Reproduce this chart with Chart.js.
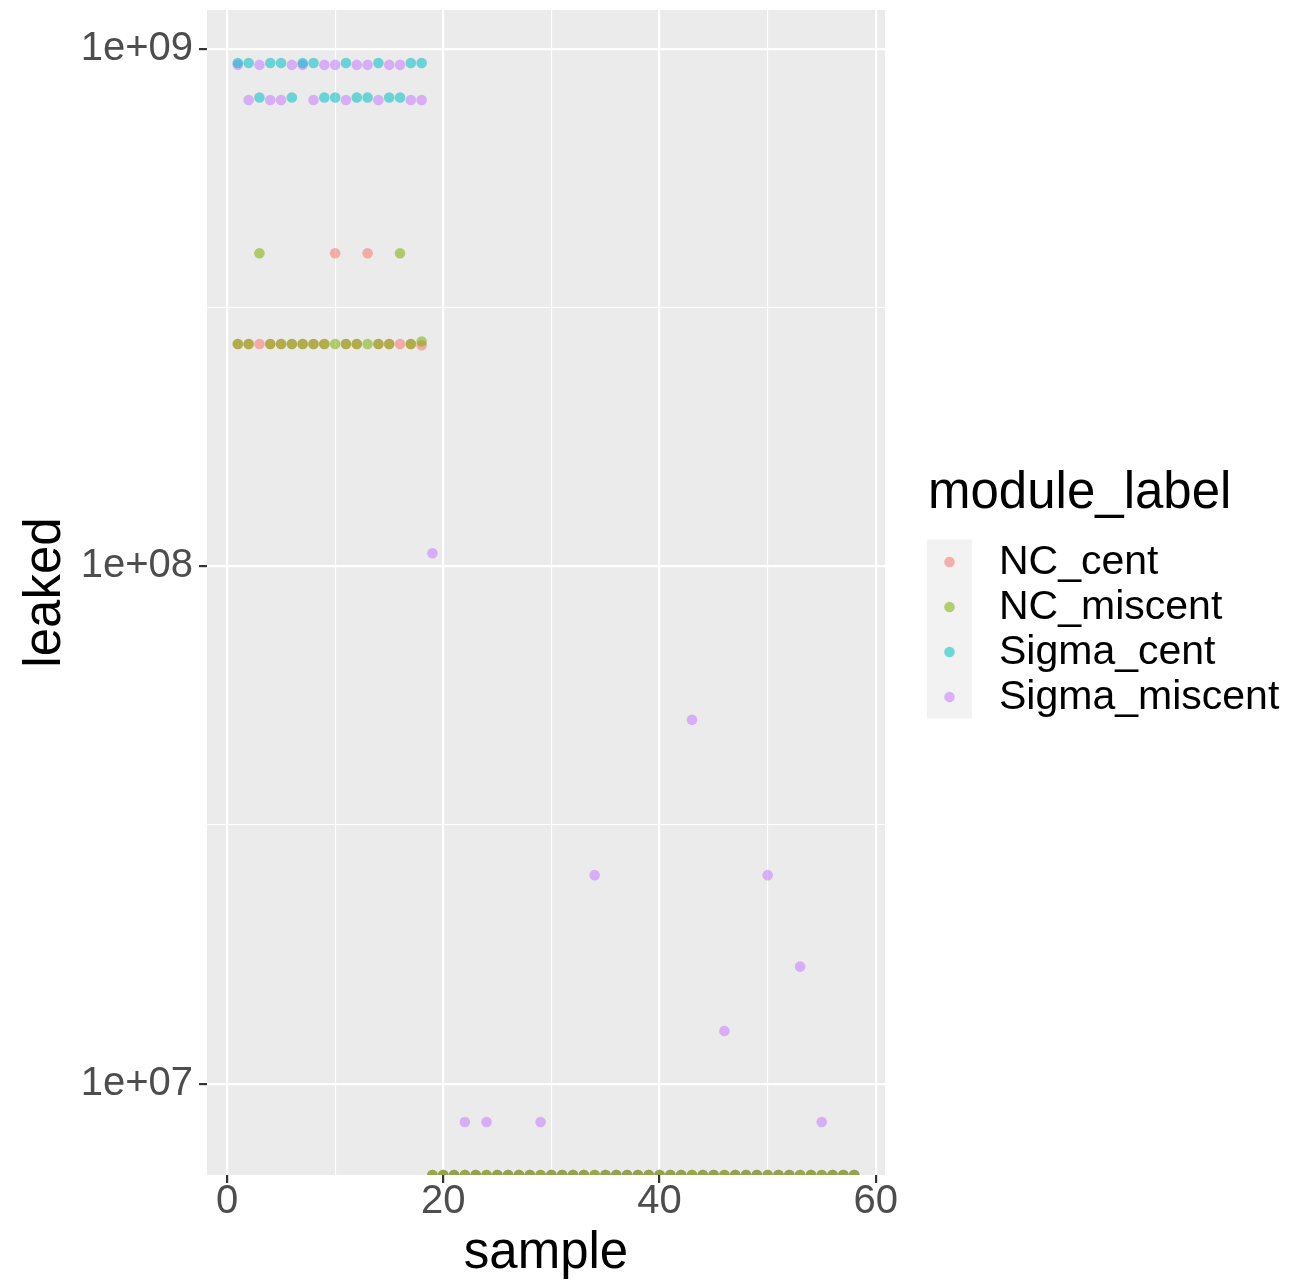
<!DOCTYPE html>
<html>
<head>
<meta charset="utf-8">
<script src="https://cdn.jsdelivr.net/npm/chart.js@4/dist/chart.umd.min.js"></script>
<style>
  html, body { margin: 0; padding: 0; background: #ffffff; }
  #wrap { width: 1312px; height: 1280px; }
</style>
</head>
<body>
<div id="wrap"><canvas id="chart" width="1312" height="1280"></canvas></div>
<script>
// ---- data -------------------------------------------------------------
const samples = [
  1, 2, 3, 4, 5, 6, 7, 8, 9, 10, 11, 12, 13, 14, 15, 16, 17, 18, 19, 20,
  21, 22, 23, 24, 25, 26, 27, 28, 29, 30, 31, 32, 33, 34, 35, 36, 37, 38, 39, 40,
  41, 42, 43, 44, 45, 46, 47, 48, 49, 50, 51, 52, 53, 54, 55, 56, 57, 58
];

const seriesNames = ['NC_cent', 'NC_miscent', 'Sigma_cent', 'Sigma_miscent'];
const seriesColors = ['#F8766D', '#7CAE00', '#00BFC4', '#C77CFF'];

// leaked bytes per sample; 0 means nothing leaked (drawn on the panel floor)
const ncCent = [
  2.69e8, 2.69e8, 2.69e8, 2.69e8, 2.69e8, 2.69e8, 2.69e8, 2.69e8, 2.69e8, 4.03e8,
  2.69e8, 2.69e8, 4.03e8, 2.69e8, 2.69e8, 2.69e8, 2.69e8, 2.675e8, 0, 0,
  0, 0, 0, 0, 0, 0, 0, 0, 0, 0,
  0, 0, 0, 0, 0, 0, 0, 0, 0, 0,
  0, 0, 0, 0, 0, 0, 0, 0, 0, 0,
  0, 0, 0, 0, 0, 0, 0, 0
];
const ncMiscent = [
  2.69e8, 2.69e8, 4.03e8, 2.69e8, 2.69e8, 2.69e8, 2.69e8, 2.69e8, 2.69e8, 2.69e8,
  2.69e8, 2.69e8, 2.69e8, 2.69e8, 2.69e8, 4.03e8, 2.69e8, 2.72e8, 0, 0,
  0, 0, 0, 0, 0, 0, 0, 0, 0, 0,
  0, 0, 0, 0, 0, 0, 0, 0, 0, 0,
  0, 0, 0, 0, 0, 0, 0, 0, 0, 0,
  0, 0, 0, 0, 0, 0, 0, 0
];
const sigmaCent = [
  9.40e8, 9.40e8, 8.06e8, 9.40e8, 9.40e8, 8.06e8, 9.40e8, 9.40e8, 8.06e8, 8.06e8,
  9.40e8, 8.06e8, 8.06e8, 9.40e8, 8.06e8, 8.06e8, 9.40e8, 9.40e8, 0, 0,
  0, 0, 0, 0, 0, 0, 0, 0, 0, 0,
  0, 0, 0, 0, 0, 0, 0, 0, 0, 0,
  0, 0, 0, 0, 0, 0, 0, 0, 0, 0,
  0, 0, 0, 0, 0, 0, 0, 0
];
const sigmaMiscent = [
  9.32e8, 7.97e8, 9.32e8, 7.97e8, 7.97e8, 9.32e8, 9.32e8, 7.97e8, 9.32e8, 9.32e8,
  7.97e8, 9.32e8, 9.32e8, 7.97e8, 9.32e8, 9.32e8, 7.97e8, 7.97e8, 1.06e8, 0,
  0, 8.43e6, 0, 8.43e6, 0, 0, 0, 0, 8.43e6, 0,
  0, 0, 0, 2.53e7, 0, 0, 0, 0, 0, 0,
  0, 0, 5.05e7, 0, 0, 1.264e7, 0, 0, 0, 2.53e7,
  0, 0, 1.684e7, 0, 8.43e6, 0, 0, 0
];

const xTickValues = [0, 20, 40, 60];
const xMinorValues = [10, 30, 50];
const yTickValues = [1e7, 1e8, 1e9];
const yTickLabels = ['1e+07', '1e+08', '1e+09'];

// ---- scale limits (5% padding on each side, log10 space for y) --------
const allSeries = [ncCent, ncMiscent, sigmaCent, sigmaMiscent];
const xLo = Math.min(...samples), xHi = Math.max(...samples);
const xPad = (xHi - xLo) * 0.05;
const xMin = xLo - xPad, xMax = xHi + xPad;

const positives = allSeries.flat().filter(v => v > 0);
const lLo = Math.log10(Math.min(...positives)), lHi = Math.log10(Math.max(...positives));
const lPad = (lHi - lLo) * 0.05;
const yMin = Math.pow(10, lLo - lPad), yMax = Math.pow(10, lHi + lPad);

// minor grid lines sit halfway between decades (log space)
const yMinorValues = [];
for (let i = 0; i < yTickValues.length - 1; i++) {
  yMinorValues.push(Math.sqrt(yTickValues[i] * yTickValues[i + 1]));
}

const FONT = '"Liberation Sans", Arial, sans-serif';
const ALPHA = 0.55;

function withAlpha(hex, a) {
  const r = parseInt(hex.slice(1, 3), 16), g = parseInt(hex.slice(3, 5), 16), b = parseInt(hex.slice(5, 7), 16);
  return `rgba(${r},${g},${b},${a})`;
}

// draw order: Sigma_miscent at the bottom, NC_miscent on top
const drawOrder = [1, 0, 2, 3];

const datasets = seriesNames.map((name, i) => ({
  label: name,
  data: samples.map((s, k) => ({ x: s, y: allSeries[i][k] > 0 ? allSeries[i][k] : yMin })),
  backgroundColor: withAlpha(seriesColors[i], ALPHA),
  borderWidth: 0,
  pointRadius: 5.3,
  pointHoverRadius: 5.3,
  clip: 0,
  order: drawOrder[i]
}));

// ---- plugins ------------------------------------------------------------
const panelBackground = {
  id: 'panelBackground',
  beforeDraw(chart) {
    const { ctx, chartArea: a } = chart;
    ctx.save();
    ctx.fillStyle = '#EBEBEB';
    ctx.fillRect(a.left, a.top, a.right - a.left, a.bottom - a.top);
    ctx.restore();
  }
};

const sideLegend = {
  id: 'sideLegend',
  afterDraw(chart) {
    const ctx = chart.ctx;
    ctx.save();
    ctx.fillStyle = '#000000';
    ctx.font = `51px ${FONT}`;
    ctx.textAlign = 'left';
    ctx.textBaseline = 'alphabetic';
    ctx.fillText('module_label', 928, 508);

    const keyX = 927, keyTop = 539.5, keySize = 45;
    ctx.fillStyle = '#F2F2F2';
    ctx.fillRect(keyX, keyTop, keySize, keySize * seriesNames.length - 1);

    seriesNames.forEach((name, i) => {
      const cy = keyTop + keySize * i + keySize / 2;
      ctx.fillStyle = withAlpha(seriesColors[i], ALPHA);
      ctx.beginPath();
      ctx.arc(keyX + keySize / 2, cy, 5.3, 0, Math.PI * 2);
      ctx.fill();
      ctx.fillStyle = '#000000';
      ctx.font = `41px ${FONT}`;
      ctx.textBaseline = 'middle';
      ctx.fillText(name, 999, cy + 1);
    });
    ctx.restore();
  }
};

// ---- chart --------------------------------------------------------------
const isXMajor = v => xTickValues.includes(v);
const isYMajor = v => yTickValues.some(t => Math.abs(t - v) / t < 1e-9);

new Chart(document.getElementById('chart'), {
  type: 'scatter',
  data: { datasets },
  plugins: [panelBackground, sideLegend],
  options: {
    responsive: false,
    animation: false,
    devicePixelRatio: 1,
    layout: { padding: { left: 0, top: 10, right: 427, bottom: 0 } },
    plugins: { legend: { display: false }, tooltip: { enabled: false } },
    scales: {
      x: {
        type: 'linear',
        min: xMin,
        max: xMax,
        afterBuildTicks(scale) {
          scale.ticks = [...xMinorValues, ...xTickValues].sort((a, b) => a - b).map(v => ({ value: v }));
        },
        afterFit(scale) {
          scale.height = 105;
          scale.paddingLeft = 0;
          scale.paddingRight = 0;
        },
        border: { display: false },
        grid: {
          color: '#FFFFFF',
          lineWidth: ctx => (ctx.tick && isXMajor(ctx.tick.value)) ? 2.2 : 1.1,
          tickColor: ctx => (ctx.tick && isXMajor(ctx.tick.value)) ? '#333333' : 'rgba(0,0,0,0)',
          tickWidth: 2.2,
          tickLength: 8
        },
        ticks: {
          autoSkip: false,
          maxRotation: 0,
          padding: -1,
          color: '#4D4D4D',
          font: { family: FONT, size: 40, lineHeight: 1 },
          callback: v => isXMajor(v) ? String(v) : ''
        },
        title: {
          display: true,
          text: 'sample',
          color: '#000000',
          font: { family: FONT, size: 51, lineHeight: 1 },
          padding: { top: 0, bottom: 1 }
        }
      },
      y: {
        type: 'logarithmic',
        min: yMin,
        max: yMax,
        afterBuildTicks(scale) {
          scale.ticks = [...yMinorValues, ...yTickValues].sort((a, b) => a - b).map(v => ({ value: v }));
        },
        afterFit(scale) {
          scale.width = 207;
          scale.paddingTop = 0;
          scale.paddingBottom = 0;
        },
        border: { display: false },
        grid: {
          color: '#FFFFFF',
          lineWidth: ctx => (ctx.tick && isYMajor(ctx.tick.value)) ? 2.2 : 1.1,
          tickColor: ctx => (ctx.tick && isYMajor(ctx.tick.value)) ? '#333333' : 'rgba(0,0,0,0)',
          tickWidth: 2.2,
          tickLength: 8
        },
        ticks: {
          autoSkip: false,
          padding: 6,
          color: '#4D4D4D',
          font: { family: FONT, size: 40, lineHeight: 1 },
          callback: v => {
            const k = yTickValues.findIndex(t => Math.abs(t - v) / t < 1e-9);
            return k >= 0 ? yTickLabels[k] : '';
          }
        },
        title: {
          display: true,
          text: 'leaked',
          color: '#000000',
          font: { family: FONT, size: 51, lineHeight: 1 },
          padding: { top: 20, bottom: 0 }
        }
      }
    }
  }
});
</script>
</body>
</html>
